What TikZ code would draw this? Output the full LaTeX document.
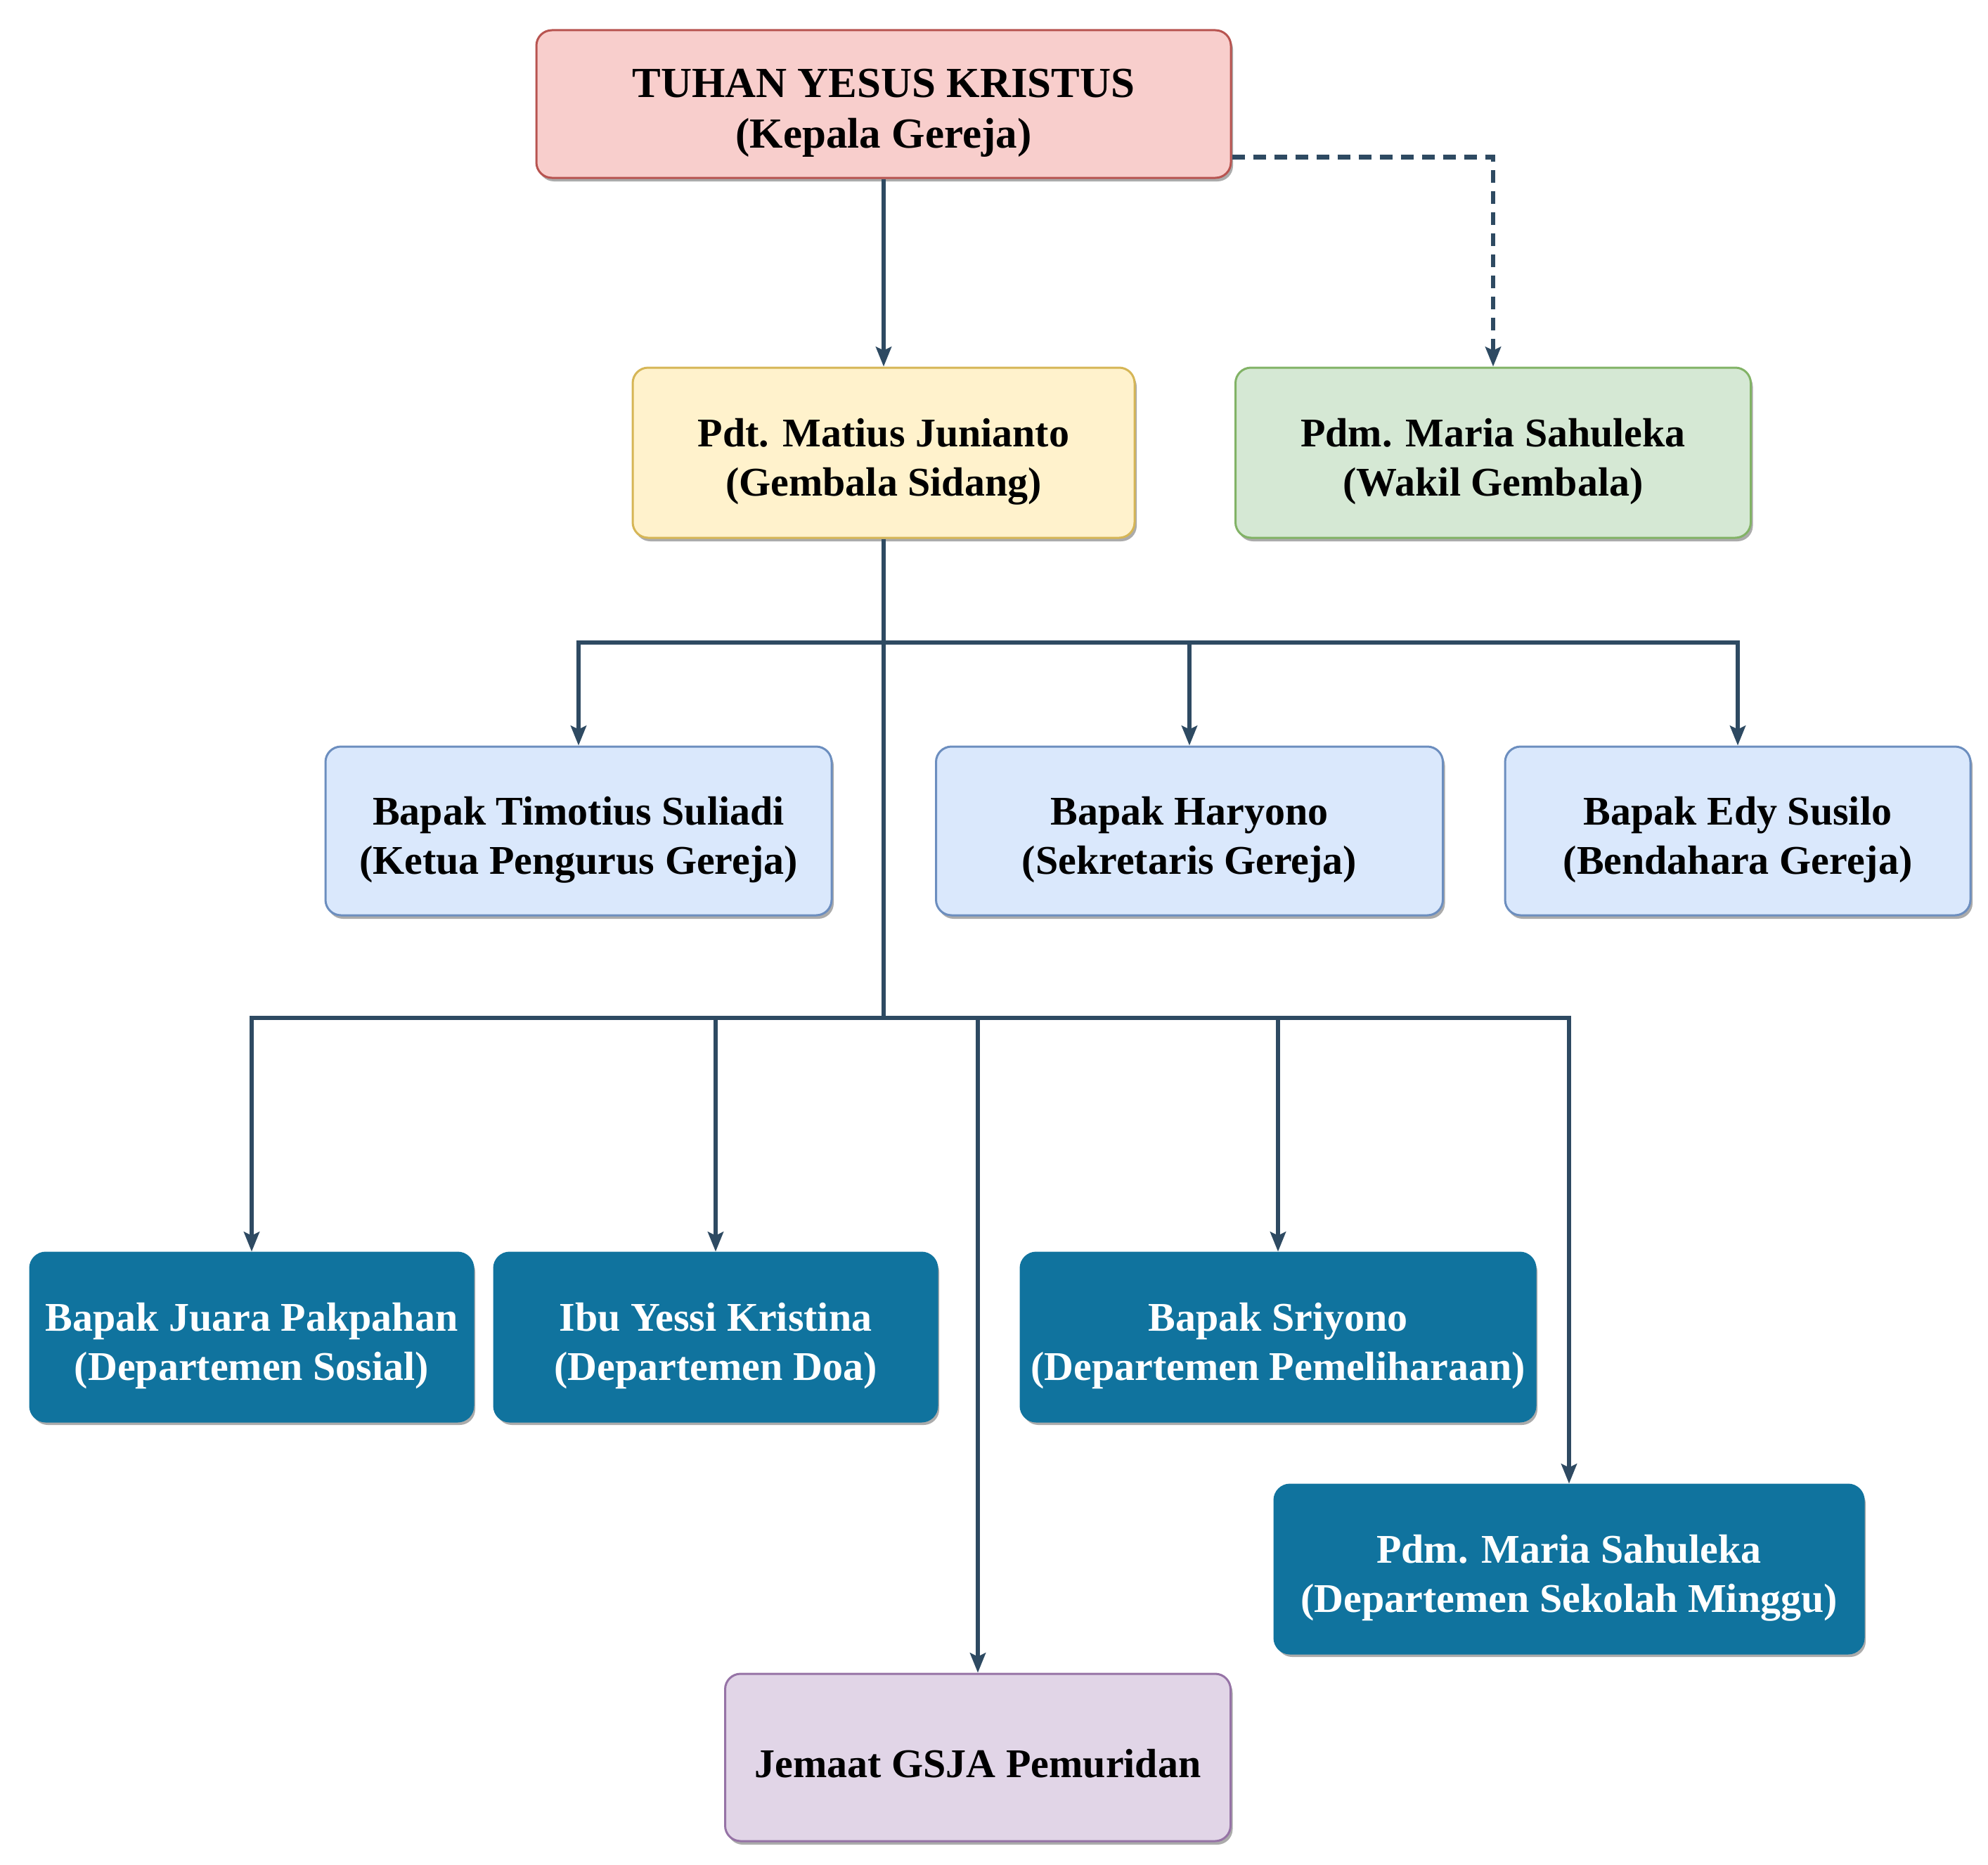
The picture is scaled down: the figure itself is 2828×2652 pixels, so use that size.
\documentclass[tikz,border=0pt]{standalone}
\usepackage{fontspec}
\setmainfont{Liberation Serif}
\usetikzlibrary{arrows.meta,shadows}
\definecolor{lnc}{HTML}{2E4A62}
\definecolor{redf}{HTML}{F8CECC}\definecolor{redd}{HTML}{B85450}
\definecolor{yelf}{HTML}{FFF2CC}\definecolor{yeld}{HTML}{D6B656}
\definecolor{grnf}{HTML}{D5E8D4}\definecolor{grnd}{HTML}{82B366}
\definecolor{bluf}{HTML}{DAE8FC}\definecolor{blud}{HTML}{6C8EBF}
\definecolor{tealf}{HTML}{10739E}
\definecolor{purf}{HTML}{E1D5E7}\definecolor{purd}{HTML}{9673A6}
\newcommand\upstrut{\rule{0pt}{66pt}}
\begin{document}
\begin{tikzpicture}[x=1pt,y=-1pt,
  box/.style={rectangle,rounded corners=22pt,line width=3pt,align=center,
    font=\fontsize{58}{70}\selectfont\bfseries,inner sep=0pt,
    drop shadow={shadow xshift=3pt,shadow yshift=-5pt,opacity=0.5,fill=black!65}},
  redbox/.style={box,fill=redf,draw=redd,font=\fontsize{61}{72}\selectfont\bfseries},
  yelbox/.style={box,fill=yelf,draw=yeld},
  grnbox/.style={box,fill=grnf,draw=grnd},
  blubox/.style={box,fill=bluf,draw=blud},
  tealbox/.style={box,fill=tealf,draw=tealf,text=white},
  purbox/.style={box,fill=purf,draw=purd},
  conn/.style={draw=lnc,line width=6.5pt},
  arr/.style={conn,-{Stealth[length=28pt,width=22pt,inset=5pt]}},
  dsh/.style={arr,dash pattern=on 18pt off 12pt}
]
\useasboundingbox[fill=white] (0,0) rectangle (2828,2652);
\node[redbox,minimum width=988pt,minimum height=210pt] (top) at (1257,148) {\upstrut TUHAN YESUS KRISTUS\\(Kepala Gereja)};
\node[yelbox,minimum width=714pt,minimum height=242pt] (pdt) at (1257,644) {\upstrut Pdt. Matius Junianto\\(Gembala Sidang)};
\node[grnbox,minimum width=733pt,minimum height=242pt] (wakil) at (2124,644) {\upstrut Pdm. Maria Sahuleka\\(Wakil Gembala)};
\node[blubox,minimum width=720pt,minimum height=240pt] (timo) at (823,1182) {\upstrut Bapak Timotius Suliadi\\(Ketua Pengurus Gereja)};
\node[blubox,minimum width=721pt,minimum height=240pt] (hary) at (1692,1182) {\upstrut Bapak Haryono\\(Sekretaris Gereja)};
\node[blubox,minimum width=662pt,minimum height=240pt] (edy) at (2472,1182) {\upstrut Bapak Edy Susilo\\(Bendahara Gereja)};
\node[tealbox,minimum width=630pt,minimum height=240pt] (juara) at (358,1902) {\upstrut Bapak Juara Pakpahan\\(Departemen Sosial)};
\node[tealbox,minimum width=630pt,minimum height=240pt] (yessi) at (1018,1902) {\upstrut Ibu Yessi Kristina\\(Departemen Doa)};
\node[tealbox,minimum width=732pt,minimum height=240pt] (sri) at (1818,1902) {\upstrut Bapak Sriyono\\(Departemen Pemeliharaan)};
\node[tealbox,minimum width=838pt,minimum height=240pt] (maria) at (2232,2232) {\upstrut Pdm. Maria Sahuleka\\(Departemen Sekolah Minggu)};
\node[purbox,minimum width=719pt,minimum height=238pt] (jem) at (1391,2500) {\rule{0pt}{58pt}Jemaat GSJA Pemuridan};
\coordinate (bus1) at (1257,914);
\coordinate (bus2) at (1257,1448);
\draw[arr] (top.south) -- (pdt.north);
\draw[dsh] ([yshift=31pt]top.south east) -| (wakil.north);
\draw[conn] (pdt.south) -- (bus2);
\draw[arr] (bus1) -| (timo.north);
\draw[arr] (bus1) -| (hary.north);
\draw[arr] (bus1) -| (edy.north);
\draw[arr] (bus2) -| (juara.north);
\draw[arr] (bus2) -| (yessi.north);
\draw[arr] (bus2) -| (jem.north);
\draw[arr] (bus2) -| (sri.north);
\draw[arr] (bus2) -| (maria.north);
\end{tikzpicture}
\end{document}
